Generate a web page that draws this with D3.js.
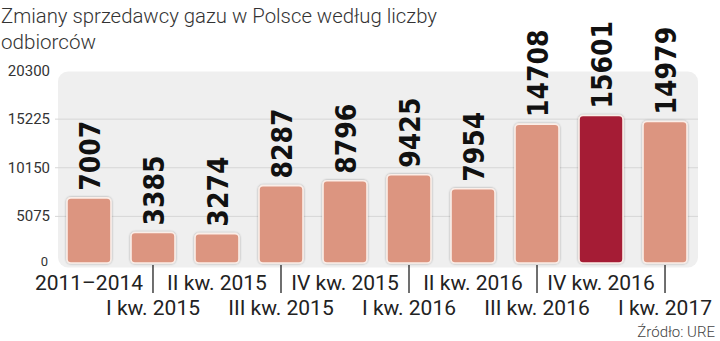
<!DOCTYPE html>
<html>
<head>
<meta charset="utf-8">
<script src="https://cdn.jsdelivr.net/npm/d3@7"></script>
<style>
  html, body { margin: 0; padding: 0; background: #ffffff; }
  svg { display: block; }
</style>
</head>
<body>
<svg id="chart" width="720" height="341"></svg>
<script>
const categories = ["2011–2014", "I kw. 2015", "II kw. 2015", "III kw. 2015", "IV kw. 2015",
                    "I kw. 2016", "II kw. 2016", "III kw. 2016", "IV kw. 2016", "I kw. 2017"];
const values = [7007, 3385, 3274, 8287, 8796, 9425, 7954, 14708, 15601, 14979];
const highlighted = ["IV kw. 2016"];
const yTicks = [0, 5075, 10150, 15225, 20300];
const titleLines = ["Zmiany sprzedawcy gazu w Polsce według liczby", "odbiorców"];
const sourceText = "Źródło: URE";

const svg = d3.select("#chart");

const x = d3.scaleBand().domain(categories).range([57, 697]).paddingInner(0.3125).paddingOuter(0.156);
const y = d3.scaleLinear().domain([0, 20300]).range([265, 70.5]);

const defs = svg.append("defs");
const f = defs.append("filter").attr("id", "sh").attr("x", "-20%").attr("y", "-20%").attr("width", "140%").attr("height", "140%");
f.append("feDropShadow").attr("dx", 0).attr("dy", 0).attr("stdDeviation", 0.8).attr("flood-color", "#000").attr("flood-opacity", 0.35);

// title
svg.append("text").attr("x", 1).attr("y", 23)
  .attr("font-family", "Roboto, 'Open Sans', sans-serif").attr("font-weight", 300)
  .attr("font-size", 21).attr("fill", "#333")
  .attr("textLength", 436).attr("lengthAdjust", "spacingAndGlyphs")
  .text(titleLines[0]);
svg.append("text").attr("x", 1).attr("y", 49)
  .attr("font-family", "Roboto, 'Open Sans', sans-serif").attr("font-weight", 300)
  .attr("font-size", 21).attr("fill", "#333")
  .attr("textLength", 95).attr("lengthAdjust", "spacingAndGlyphs")
  .text(titleLines[1]);

// background panel
svg.append("rect").attr("x", 58).attr("y", 71.5).attr("width", 640).attr("height", 196)
  .attr("rx", 10).attr("fill", "#efefef");

// gridlines
svg.append("g").selectAll("line").data(yTicks.filter(d => d > 0 && d < 20300)).join("line")
  .attr("x1", 55).attr("x2", 698)
  .attr("y1", d => y(d)).attr("y2", d => y(d))
  .attr("stroke", "#d6d6d6").attr("stroke-width", 1);

// y axis labels
const yAxis = d3.axisLeft(y).tickValues(yTicks).tickSize(0).tickPadding(0).tickFormat(d3.format("d"));
const yg = svg.append("g").attr("transform", "translate(50,0)").call(yAxis);
yg.select(".domain").remove();
yg.selectAll("text").attr("font-family", "Roboto, 'Open Sans', sans-serif").attr("font-size", 15)
  .attr("fill", "#333").attr("dy", "0.3em").attr("y", 0)
  .attr("text-anchor", "end");
yg.selectAll(".tick").filter(d => d === 0).select("text").attr("x", -2).attr("y", -3).attr("font-size", 13);

// bars
svg.append("g").selectAll("rect").data(values).join("rect")
  .attr("x", (d, i) => x(categories[i]))
  .attr("y", d => y(d))
  .attr("width", x.bandwidth())
  .attr("height", d => y(0) - 2 - y(d))
  .attr("rx", 4)
  .attr("fill", (d, i) => highlighted.includes(categories[i]) ? "#a51c35" : "#dc9580")
  .attr("stroke", "#fbeee8").attr("stroke-width", 1.6)
  .attr("filter", "url(#sh)");

// value labels
svg.append("g").selectAll("text").data(values).join("text")
  .attr("transform", (d, i) => `translate(${x(categories[i]) + x.bandwidth() / 2 + 1},${y(d) - 7}) rotate(-90)`)
  .attr("dy", "0.36em")
  .attr("text-anchor", "start")
  .attr("font-family", "'Liberation Sans Narrow', 'DejaVu Sans Condensed', sans-serif")
  .attr("font-weight", "bold")
  .attr("font-size", 28)
  .attr("fill", "#111")
  .text(d => d);

// x axis: ticks at odd categories, two label rows
const xg = svg.append("g");
xg.selectAll("line").data(categories.filter((c, i) => i % 2 === 1)).join("line")
  .attr("x1", c => x(c) + x.bandwidth() / 2).attr("x2", c => x(c) + x.bandwidth() / 2)
  .attr("y1", 265).attr("y2", 293)
  .attr("stroke", "#222").attr("stroke-width", 1.3);
xg.selectAll("text").data(categories).join("text")
  .attr("x", c => x(c) + x.bandwidth() / 2)
  .attr("y", (c, i) => i % 2 === 0 ? 290 : 315)
  .attr("text-anchor", "middle")
  .attr("font-family", "Roboto, 'Open Sans', sans-serif")
  .attr("font-size", 21)
  .attr("fill", "#222")
  .text(c => c);

// source
svg.append("text").attr("x", 715).attr("y", 337).attr("text-anchor", "end")
  .attr("font-family", "Roboto, 'Open Sans', sans-serif").attr("font-weight", 300)
  .attr("font-size", 15).attr("fill", "#444")
  .text(sourceText);
</script>
</body>
</html>
